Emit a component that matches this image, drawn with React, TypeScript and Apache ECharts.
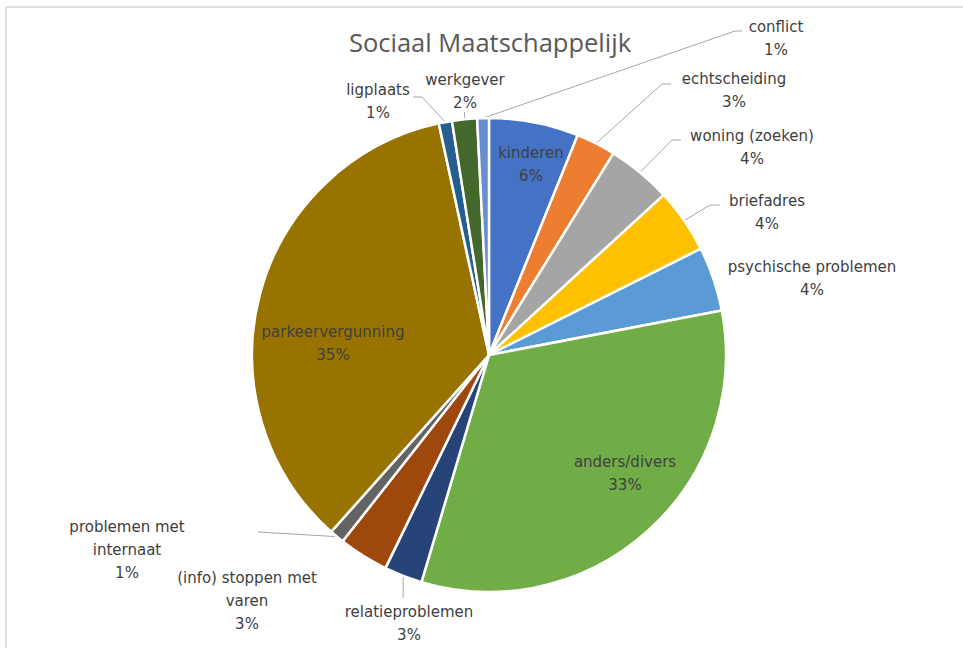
import React, { useEffect, useRef } from "react";
import * as echarts from "echarts";

const categories = [
  "kinderen",
  "echtscheiding",
  "woning (zoeken)",
  "briefadres",
  "psychische problemen",
  "anders/divers",
  "relatieproblemen",
  "(info) stoppen met varen",
  "problemen met internaat",
  "parkeervergunning",
  "ligplaats",
  "werkgever",
  "conflict",
];
const values = [6.1, 2.7, 4.4, 4.4, 4.4, 32.6, 2.6, 3.4, 1.0, 35.0, 0.9, 1.7, 0.8];
const colors = [
  "#4472C4", "#ED7D31", "#A5A5A5", "#FFC000", "#5B9BD5", "#70AD47",
  "#264478", "#9E480E", "#636363", "#997300", "#255E91", "#43682B", "#698ED0",
];
const insideLabels = ["kinderen", "anders/divers", "parkeervergunning"];
const noLineLabels = ["psychische problemen", "(info) stoppen met varen"];
const wrapped: Record<string, string> = {
  "problemen met internaat": "problemen met\ninternaat",
  "(info) stoppen met varen": "(info) stoppen met\nvaren",
};

// label layout (label block centers and leader line bends, in pixels)
const labelLayoutTable: Array<{ x: number; y: number; line?: number[][] | "down" }> = [
  { x: 531, y: 164 },
  { x: 734, y: 90, line: [[662, 84], [671, 84]] },
  { x: 752, y: 147, line: [[672, 140], [681, 140]] },
  { x: 767, y: 212, line: [[710, 205], [720, 205]] },
  { x: 812, y: 278 },
  { x: 625, y: 473 },
  { x: 409, y: 623, line: "down" },
  { x: 247, y: 601 },
  { x: 127, y: 550, line: [[258, 532], [258, 532]] },
  { x: 333, y: 343 },
  { x: 378, y: 101, line: [[422, 97], [413, 97]] },
  { x: 465, y: 91, line: "down" },
  { x: 776, y: 38, line: [[735, 31], [742, 31]] },
];
const downEnds: Record<number, number> = { 6: 598, 11: 112 };

export default function App() {
  const ref = useRef<HTMLDivElement>(null);
  useEffect(() => {
    if (!ref.current) return;
    const chart = echarts.init(ref.current, null, { renderer: "svg" });
    const labelFont = "DejaVu Sans";
    chart.setOption({
      animation: false,
      backgroundColor: "#ffffff",
      graphic: [
        {
          type: "rect",
          shape: { x: 6, y: 7, width: 1000, height: 1000 },
          style: { fill: "none", stroke: "#d9d9d9", lineWidth: 1.5 },
          silent: true,
        },
        {
          type: "text",
          x: 490,
          y: 42,
          style: {
            text: "Sociaal Maatschappelijk",
            fontFamily: "Open Sans",
            fontSize: 25.5,
            fill: "#595959",
            align: "center",
            verticalAlign: "middle",
          },
        },
      ],
      series: [
        {
          type: "pie",
          center: [489, 355],
          radius: 237,
          startAngle: 90,
          clockwise: true,
          avoidLabelOverlap: false,
          itemStyle: { borderColor: "#ffffff", borderWidth: 2.5 },
          label: {
            show: true,
            color: "#404040",
            fontFamily: labelFont,
            fontSize: 15,
            lineHeight: 23,
            align: "center",
            formatter: (p: any) => {
              const name = wrapped[p.name] ?? p.name;
              return name + "\n" + Math.round(p.percent) + "%";
            },
          },
          labelLine: {
            show: true,
            lineStyle: { color: "#a6a6a6", width: 1 },
          },
          labelLayout: (params: any) => {
            const cfg = labelLayoutTable[params.dataIndex];
            const out: any = {
              x: cfg.x,
              y: cfg.y,
              align: "center",
              verticalAlign: "middle",
            };
            const pts = params.labelLinePoints;
            if (cfg.line && pts && pts[0]) {
              const s = pts[0];
              if (cfg.line === "down") {
                const ey = downEnds[params.dataIndex];
                out.labelLinePoints = [s, [s[0], ey], [s[0], ey]];
              } else {
                out.labelLinePoints = [s, cfg.line[0], cfg.line[1]];
              }
            }
            return out;
          },
          data: categories.map((name, i) => ({
            name,
            value: values[i],
            itemStyle: { color: colors[i] },
            label: { position: insideLabels.includes(name) ? "inside" : "outside" },
            labelLine: {
              show: !insideLabels.includes(name) && !noLineLabels.includes(name),
            },
          })),
        },
      ],
    });
    return () => chart.dispose();
  }, []);
  return (
    <div
      ref={ref}
      style={{ position: "fixed", left: 0, top: 0, width: 963, height: 648 }}
    />
  );
}
